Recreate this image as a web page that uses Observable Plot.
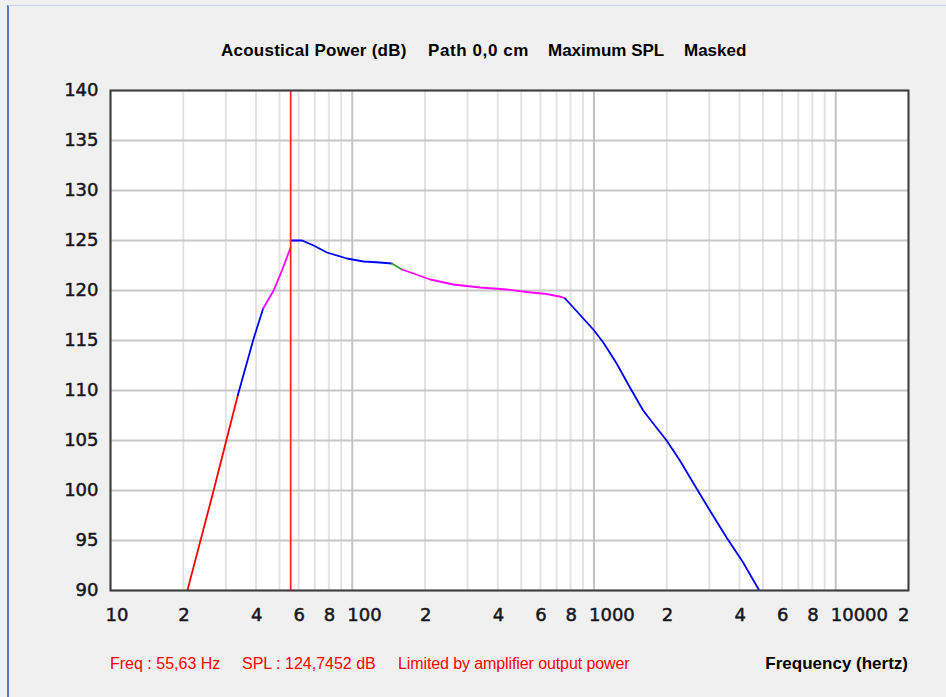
<!DOCTYPE html>
<html>
<head>
<meta charset="utf-8">
<script src="https://cdn.jsdelivr.net/npm/d3@7"></script>
<script src="https://cdn.jsdelivr.net/npm/@observablehq/plot@0.6"></script>
<style>
  html, body { margin: 0; padding: 0; background: #f0f0f0; }
  #page { position: relative; width: 946px; height: 697px; overflow: hidden; background: #f0f0f0; }
  #winborder { position: absolute; left: 7px; top: 5px; width: 939px; height: 692px;
    border-left: 2px solid #5577c8; border-top: 1px solid #c8d2e6; box-sizing: border-box; }
  #chart { position: absolute; left: 0; top: 0; }
  .t { position: absolute; white-space: pre; line-height: 1; }
  .title { font: bold 17px "Liberation Sans", Arial, sans-serif; color: #000; top: 41px; }
  .status { font: 16px "Liberation Sans", Arial, sans-serif; color: #ff0000; top: 655px; }
  .xlabel { font: bold 17px "Liberation Sans", Arial, sans-serif; color: #000; top: 654px; right: 38px; }
</style>
</head>
<body>
<div id="page">
  <div id="winborder"></div>
  <div id="chart"></div>
  <div class="t title" style="left:221px;letter-spacing:0.25px">Acoustical Power (dB)</div>
  <div class="t title" style="left:428px;letter-spacing:0.6px">Path 0,0 cm</div>
  <div class="t title" style="left:548px">Maximum SPL</div>
  <div class="t title" style="left:684px">Masked</div>
  <div class="t status" style="left:110px">Freq : 55,63 Hz</div>
  <div class="t status" style="left:242px">SPL : 124,7452 dB</div>
  <div class="t status" style="left:398px;letter-spacing:-0.1px">Limited by amplifier output power</div>
  <div class="t xlabel">Frequency (hertz)</div>
</div>
<script>
// ---- data ----
const segColors = ["#ff0000", "#0000ff", "#ff00ff", "#0000ff", "#2e9a2e", "#ff00ff", "#0000ff"];
const segFreqs = [
  [20.8, 26.7, 33.6],
  [33.6, 39.1, 42.8],
  [42.8, 47.3, 51.2, 55.6],
  [55.6, 62.0, 69.2, 78.6, 95.1, 111.4, 130.0, 145.9],
  [145.9, 160.5],
  [160.5, 179.2, 210.1, 262.1, 338.0, 435.9, 527.2, 637.6, 735.3, 759.2],
  [759.2, 821.4, 993.3, 1092.5, 1241, 1408.5, 1598, 1758, 1997, 2267, 2657, 3016, 3535, 4140, 4775, 4820]
];
const segSpls = [
  [90.0, 100.0, 109.5],
  [109.5, 115.2, 118.2],
  [118.2, 120.0, 122.0, 124.3],
  [125.0, 125.0, 124.5, 123.8, 123.2, 122.9, 122.8, 122.7],
  [122.7, 122.1],
  [122.1, 121.7, 121.1, 120.6, 120.3, 120.1, 119.85, 119.65, 119.35, 119.2],
  [119.2, 118.3, 116.1, 114.8, 112.7, 110.3, 108.0, 106.7, 105.0, 103.0, 100.2, 98.0, 95.3, 92.8, 90.2, 90.0]
];
const cursorFreq = [55.63];

const yTicks = [90, 95, 100, 105, 110, 115, 120, 125, 130, 135, 140];
const xTickValues = [10, 20, 40, 60, 80, 100, 200, 400, 600, 800, 1000, 2000, 4000, 6000, 8000, 10000, 20000];
const xTickLabels = ["10", "2", "4", "6", "8", "100", "2", "4", "6", "8", "1000", "2", "4", "6", "8", "10000", "2"];
const decades = [10, 100, 1000, 10000];
const multipliers = [2, 3, 4, 5, 6, 7, 8, 9];

// ---- build tables ----
const rows = [];
segFreqs.forEach((fs, i) => fs.forEach((f, j) => rows.push({f, db: segSpls[i][j], seg: i, color: segColors[i]})));
const minorGrid = [];
decades.forEach(d => multipliers.forEach(m => { if (d * m <= 20000) minorGrid.push(d * m); }));
const xLabels = xTickValues.map((v, i) => ({v, label: xTickLabels[i]}));
const xLabelsMain = xLabels.slice(0, -1);
const xLabelsLast = xLabels.slice(-1);

const labelStyle = {fontSize: 18, fill: "#161620", stroke: "#161620", strokeWidth: 0.5, lineAnchor: "middle"};

const chart = Plot.plot({
  width: 946,
  height: 697,
  marginLeft: 110,
  marginRight: 38,
  marginTop: 90,
  marginBottom: 107,
  style: {background: "transparent", fontFamily: "DejaVu Sans, sans-serif", fontSize: "18px", color: "#161620"},
  x: {type: "log", domain: [10, 20000], axis: null},
  y: {domain: [90, 140], axis: null},
  color: {type: "identity"},
  marks: [
    Plot.frame({fill: "white", stroke: "none"}),
    Plot.ruleX(minorGrid, {stroke: "#e3e3e3", strokeWidth: 2}),
    Plot.ruleY(yTicks, {stroke: "#c8c8c8", strokeWidth: 2}),
    Plot.ruleX(decades, {stroke: "#c4c4c4", strokeWidth: 2}),
    Plot.line(rows, {x: "f", y: "db", z: "seg", stroke: "color", strokeWidth: 1.8, clip: true}),
    Plot.ruleX(cursorFreq, {stroke: "#ff2020", strokeWidth: 1.7}),
    Plot.frame({stroke: "#3c3c3c", strokeWidth: 2}),
    Plot.text(yTicks, {y: d => d, text: d => String(d), frameAnchor: "left", textAnchor: "end", dx: -12, ...labelStyle}),
    Plot.text(xLabelsMain, {x: "v", text: "label", frameAnchor: "bottom", textAnchor: "start", dx: -5, dy: 25, ...labelStyle}),
    Plot.text(xLabelsLast, {x: "v", text: "label", frameAnchor: "bottom", textAnchor: "end", dx: 1, dy: 25, ...labelStyle})
  ]
});
document.getElementById("chart").appendChild(chart);
</script>
</body>
</html>
